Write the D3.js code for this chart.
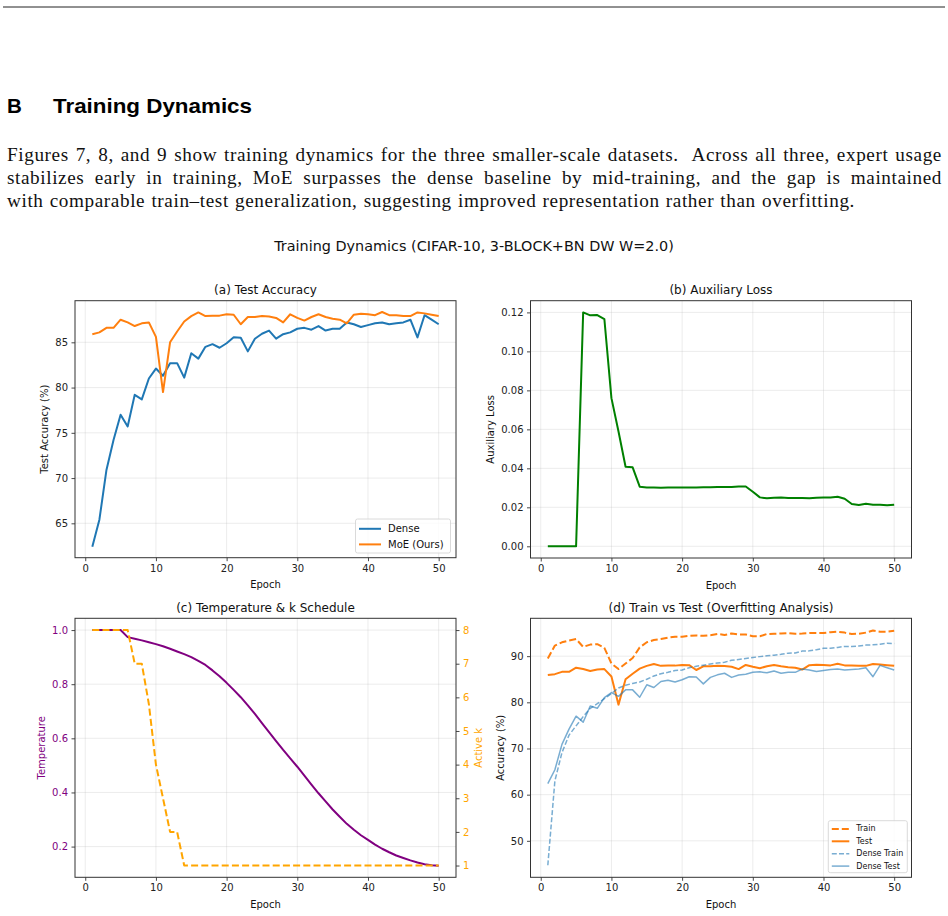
<!DOCTYPE html>
<html>
<head>
<meta charset="utf-8">
<script src="https://cdn.jsdelivr.net/npm/d3@7"></script>
<style>
  body { margin: 0; background: #fff; }
  svg { display: block; }
</style>
</head>
<body>
<div id="fig"></div>
<script>
// ---- data ----
var epochs = d3.range(1, 51);

var denseTest = [62.4, 65.4, 70.9, 74.2, 77.0, 75.7, 79.2, 78.7, 81.0, 82.1,
  81.3, 82.7, 82.7, 81.1, 83.8, 83.2, 84.5, 84.8, 84.4, 84.9,
  85.55, 85.5, 84.0, 85.4, 85.95, 86.3, 85.4, 85.9, 86.1, 86.5,
  86.6, 86.4, 86.8, 86.3, 86.5, 86.5, 87.2, 87.0, 86.7, 86.9,
  87.1, 87.2, 87.0, 87.1, 87.2, 87.5, 85.55, 88.0, 87.5, 87.0];

var moeTest = [85.9, 86.1, 86.6, 86.6, 87.5, 87.2, 86.8, 87.1, 87.2, 85.6,
  79.5, 85.0, 86.2, 87.3, 87.9, 88.3, 87.9, 87.95, 87.95, 88.1,
  88.05, 87.0, 87.8, 87.8, 87.9, 87.85, 87.7, 87.2, 88.1, 87.7,
  87.4, 87.8, 88.1, 87.8, 87.6, 87.5, 87.1, 88.05, 88.15, 88.1,
  88.0, 88.35, 88.0, 88.0, 87.9, 87.9, 88.3, 88.2, 88.05, 87.9];

var moeTrain = [89.5, 92.3, 93.0, 93.4, 93.7, 92.0, 92.5, 92.6, 91.8, 88.4,
  87.2, 88.4, 89.6, 91.9, 93.0, 93.5, 93.7, 94.0, 94.2, 94.2,
  94.4, 94.5, 94.4, 94.55, 94.8, 94.6, 94.9, 94.7, 94.7, 94.3,
  94.3, 94.8, 94.85, 94.9, 95.0, 94.85, 94.9, 95.0, 95.0, 95.0,
  95.2, 95.3, 95.1, 94.8, 94.85, 95.1, 95.55, 95.3, 95.3, 95.5];

var denseTrain = [44.7, 63.0, 69.1, 72.9, 74.9, 76.9, 78.7, 79.7, 80.8, 81.9,
  83.1, 83.7, 84.1, 84.4, 85.0, 85.7, 86.2, 86.5, 86.9, 87.0,
  87.5, 87.8, 88.05, 88.3, 88.5, 88.7, 89.1, 89.3, 89.5, 89.7,
  89.9, 90.1, 90.2, 90.4, 90.65, 90.7, 91.1, 91.15, 91.4, 91.7,
  91.7, 91.9, 92.1, 92.1, 92.2, 92.4, 92.45, 92.6, 92.8, 92.75];

var auxLoss = [0, 0, 0, 0, 0, 0.120, 0.1185, 0.1186, 0.1166, 0.076,
  0.0589, 0.0408, 0.0405, 0.0306, 0.0302, 0.0302, 0.0301, 0.0302, 0.0302, 0.0302,
  0.0302, 0.0302, 0.0303, 0.0303, 0.0304, 0.0304, 0.0304, 0.0307, 0.0307, 0.028,
  0.0251, 0.0246, 0.0249, 0.0251, 0.0248, 0.0248, 0.0248, 0.0246, 0.0249, 0.0251,
  0.0251, 0.0254, 0.0244, 0.0217, 0.0212, 0.0218, 0.0213, 0.0213, 0.021, 0.0213];

var temperature = [1.0, 1.0, 1.0, 1.0, 1.0, 0.974, 0.968, 0.962, 0.955, 0.948,
  0.94, 0.931, 0.921, 0.911, 0.90, 0.886, 0.871, 0.851, 0.829, 0.805,
  0.779, 0.752, 0.722, 0.69, 0.656, 0.623, 0.59, 0.557, 0.526, 0.495,
  0.462, 0.429, 0.397, 0.367, 0.337, 0.31, 0.284, 0.262, 0.242, 0.225,
  0.207, 0.192, 0.179, 0.167, 0.158, 0.149, 0.141, 0.135, 0.131, 0.129];

var activeK = [8, 8, 8, 8, 8, 8, 7, 7, 5.8, 4.0,
  3.0, 2, 2, 1, 1, 1, 1, 1, 1, 1,
  1, 1, 1, 1, 1, 1, 1, 1, 1, 1,
  1, 1, 1, 1, 1, 1, 1, 1, 1, 1,
  1, 1, 1, 1, 1, 1, 1, 1, 1, 1];

var epochTicks = [0, 10, 20, 30, 40, 50];
var accTicks = [65, 70, 75, 80, 85];
var lossTicks = [0, 0.02, 0.04, 0.06, 0.08, 0.10, 0.12];
var tempTicks = [0.2, 0.4, 0.6, 0.8, 1.0];
var kTicks = [1, 2, 3, 4, 5, 6, 7, 8];
var overfitTicks = [50, 60, 70, 80, 90];

var bodyLines = [
  "Figures 7, 8, and 9 show training dynamics for the three smaller-scale datasets.  Across all three, expert usage",
  "stabilizes early in training, MoE surpasses the dense baseline by mid-training, and the gap is maintained",
  "with comparable train\u2013test generalization, suggesting improved representation rather than overfitting."
];

// ---- page ----
var W = 948, H = 916;
var svg = d3.select("#fig").append("svg")
  .attr("width", W).attr("height", H)
  .style("font-family", "'DejaVu Sans', sans-serif");

svg.append("rect").attr("width", W).attr("height", H).attr("fill", "#fff");

// top rule
svg.append("line").attr("x1", 3).attr("x2", 945).attr("y1", 7).attr("y2", 7)
  .attr("stroke", "#222").attr("stroke-width", 1);

// section heading
var head = svg.append("g").style("font-family", "'Liberation Sans', Arial, sans-serif")
  .style("font-weight", "bold").style("font-size", "20.5px").attr("fill", "#000");
head.append("text").attr("x", 7).attr("y", 113).text("B");
head.append("text").attr("x", 53).attr("y", 113).attr("textLength", 199)
  .attr("lengthAdjust", "spacingAndGlyphs").text("Training Dynamics");

// paragraph: a bit of letter spacing, the rest of the justification in the word gaps
var lineWidths = [935, 935, 848];
var para = svg.append("g").style("font-family", "'Liberation Serif', 'Times New Roman', serif")
  .style("font-size", "19.2px").style("letter-spacing", "0.6px").attr("fill", "#111");
para.selectAll("text").data(bodyLines).enter().append("text")
  .attr("x", 7)
  .attr("y", function(d, i) { return 160.5 + i * 23.4; })
  .style("white-space", "pre")
  .text(function(d) { return d; })
  .each(function(d, i) {
    var natural = this.getComputedTextLength();
    var gaps = d.split(" ").length - 1;
    var extra = (lineWidths[i] - natural) / gaps;
    d3.select(this).style("word-spacing", extra + "px");
  });

// figure suptitle
svg.append("text").attr("x", 474).attr("y", 246).attr("text-anchor", "middle")
  .attr("dominant-baseline", "central").style("font-size", "14.4px").attr("fill", "#111")
  .text("Training Dynamics (CIFAR-10, 3-BLOCK+BN DW W=2.0)");

// ---- helpers ----
var gridColor = "#b0b0b0";

function makePanel(box, xDomain, yDomain, yTicks, yFormat, title, xLabel, yLabel, yColor) {
  var g = svg.append("g");
  var x = d3.scaleLinear().domain(xDomain).range([box.left, box.right]);
  var y = d3.scaleLinear().domain(yDomain).range([box.bottom, box.top]);

  // grid
  g.append("g").selectAll("line").data(epochTicks).enter().append("line")
    .attr("x1", function(d) { return x(d); }).attr("x2", function(d) { return x(d); })
    .attr("y1", box.top).attr("y2", box.bottom)
    .attr("stroke", gridColor).attr("stroke-opacity", 0.3).attr("stroke-width", 0.8);
  g.append("g").selectAll("line").data(yTicks).enter().append("line")
    .attr("y1", function(d) { return y(d); }).attr("y2", function(d) { return y(d); })
    .attr("x1", box.left).attr("x2", box.right)
    .attr("stroke", gridColor).attr("stroke-opacity", 0.3).attr("stroke-width", 0.8);

  var xAxis = d3.axisBottom(x).tickValues(epochTicks).tickSize(3.5).tickPadding(3.5)
    .tickFormat(d3.format("d"));
  var xa = g.append("g").attr("transform", "translate(0," + box.bottom + ")").call(xAxis);
  styleAxis(xa, "#222");

  var yAxis = d3.axisLeft(y).tickValues(yTicks).tickSize(3.5).tickPadding(3.5)
    .tickFormat(yFormat);
  var ya = g.append("g").attr("transform", "translate(" + box.left + ",0)").call(yAxis);
  styleAxis(ya, yColor || "#222");

  // titles
  g.append("text").attr("x", (box.left + box.right) / 2).attr("y", box.top - 10.5)
    .attr("text-anchor", "middle").attr("dominant-baseline", "central")
    .style("font-size", "12px").attr("fill", "#111").text(title);
  g.append("text").attr("x", (box.left + box.right) / 2).attr("y", box.bottom + 27)
    .attr("text-anchor", "middle").attr("dominant-baseline", "central")
    .style("font-size", "10px").attr("fill", "#111").text(xLabel);
  g.append("text")
    .attr("transform", "translate(" + box.yLabelX + "," + (box.top + box.bottom) / 2 + ") rotate(-90)")
    .attr("text-anchor", "middle").attr("dominant-baseline", "central")
    .style("font-size", "10px").attr("fill", yColor || "#111").text(yLabel);

  var plot = g.append("g");
  return { g: g, plot: plot, x: x, y: y, box: box };
}

function styleAxis(a, color) {
  a.select(".domain").remove();
  a.selectAll(".tick line").attr("stroke", "#333").attr("stroke-width", 0.9);
  a.selectAll(".tick text").attr("fill", color).style("font-size", "10px")
    .style("font-family", "'DejaVu Sans', sans-serif");
}

function frame(p) {
  p.g.append("rect").attr("x", p.box.left).attr("y", p.box.top)
    .attr("width", p.box.right - p.box.left).attr("height", p.box.bottom - p.box.top)
    .attr("fill", "none").attr("stroke", "#333").attr("stroke-width", 1);
}

function drawLine(p, yScale, values, color, width, dash, opacity) {
  var line = d3.line()
    .x(function(d) { return p.x(d[0]); })
    .y(function(d) { return yScale(d[1]); });
  p.plot.append("path")
    .datum(d3.zip(epochs, values))
    .attr("fill", "none")
    .attr("stroke", color)
    .attr("stroke-width", width)
    .attr("stroke-linejoin", "round")
    .attr("stroke-dasharray", dash || null)
    .attr("stroke-opacity", opacity || 1)
    .attr("d", line);
}

function legend(p, items, lx, ly, w, h, rowH, fontSize, sampleLen) {
  var lg = p.g.append("g").attr("transform", "translate(" + lx + "," + ly + ")");
  lg.append("rect").attr("width", w).attr("height", h).attr("rx", 2)
    .attr("fill", "#fff").attr("fill-opacity", 0.8)
    .attr("stroke", "#d0d0d0").attr("stroke-width", 0.8);
  items.forEach(function(it, i) {
    var cy = rowH * 0.5 + 2 + i * rowH;
    lg.append("line").attr("x1", 3.5).attr("x2", 3.5 + sampleLen)
      .attr("y1", cy).attr("y2", cy)
      .attr("stroke", it.color).attr("stroke-width", it.width)
      .attr("stroke-opacity", it.opacity || 1)
      .attr("stroke-dasharray", it.dash || null);
    lg.append("text").attr("x", sampleLen + 10.5).attr("y", cy)
      .attr("dominant-baseline", "central").style("font-size", fontSize + "px")
      .attr("fill", "#111").text(it.label);
  });
}

var blue = "#1f77b4", orange = "#ff7f0e";
var epochDomain = [-1.45, 52.45];

// ---- (a) test accuracy ----
var pa = makePanel({ left: 75, right: 456, top: 300.7, bottom: 557.7, yLabelX: 44 },
  epochDomain, [61.2, 89.6], accTicks, d3.format("d"),
  "(a) Test Accuracy", "Epoch", "Test Accuracy (%)");
drawLine(pa, pa.y, denseTest, blue, 2);
drawLine(pa, pa.y, moeTest, orange, 2);
frame(pa);
legend(pa, [
  { label: "Dense", color: blue, width: 2 },
  { label: "MoE (Ours)", color: orange, width: 2 }
], 355.5, 519, 95, 34, 15.6, 10, 22);

// ---- (b) auxiliary loss ----
var pb = makePanel({ left: 530.5, right: 911.5, top: 300.7, bottom: 558, yLabelX: 490.5 },
  epochDomain, [-0.006, 0.126], lossTicks, d3.format(".2f"),
  "(b) Auxiliary Loss", "Epoch", "Auxiliary Loss");
drawLine(pb, pb.y, auxLoss, "green", 2);
frame(pb);

// ---- (c) temperature & k schedule ----
var purple = "#800080", kColor = "#ffa500";
var pc = makePanel({ left: 75, right: 456, top: 618.3, bottom: 877.3, yLabelX: 41 },
  epochDomain, [0.0865, 1.0435], tempTicks, d3.format(".1f"),
  "(c) Temperature & k Schedule", "Epoch", "Temperature", purple);
var kScale = d3.scaleLinear().domain([0.65, 8.35]).range([877.3, 618.3]);
var ka = pc.g.append("g").attr("transform", "translate(456,0)")
  .call(d3.axisRight(kScale).tickValues(kTicks).tickSize(3.5).tickPadding(3.5).tickFormat(d3.format("d")));
styleAxis(ka, kColor);
pc.g.append("text")
  .attr("transform", "translate(478.5," + (618.3 + 877.3) / 2 + ") rotate(-90)")
  .attr("text-anchor", "middle").attr("dominant-baseline", "central")
  .style("font-size", "10px").attr("fill", kColor).text("Active k");
drawLine(pc, pc.y, temperature, purple, 2);
drawLine(pc, kScale, activeK, kColor, 2, "7,3.2");
frame(pc);

// ---- (d) train vs test ----
var pd = makePanel({ left: 530.5, right: 911.5, top: 618.3, bottom: 877.3, yLabelX: 500 },
  epochDomain, [42.1, 98.2], overfitTicks, d3.format("d"),
  "(d) Train vs Test (Overfitting Analysis)", "Epoch", "Accuracy (%)");
drawLine(pd, pd.y, moeTrain, orange, 2, "7,3");
drawLine(pd, pd.y, moeTest, orange, 2);
drawLine(pd, pd.y, denseTrain, blue, 1.5, "5,2.2", 0.6);
drawLine(pd, pd.y, denseTest, blue, 1.5, null, 0.6);
frame(pd);
legend(pd, [
  { label: "Train", color: orange, width: 2, dash: "7,3" },
  { label: "Test", color: orange, width: 2 },
  { label: "Dense Train", color: blue, width: 1.5, dash: "5,2.2", opacity: 0.6 },
  { label: "Dense Test", color: blue, width: 1.5, opacity: 0.6 }
], 828.3, 820.7, 79, 52, 12.4, 8, 17.5);
</script>
</body>
</html>
